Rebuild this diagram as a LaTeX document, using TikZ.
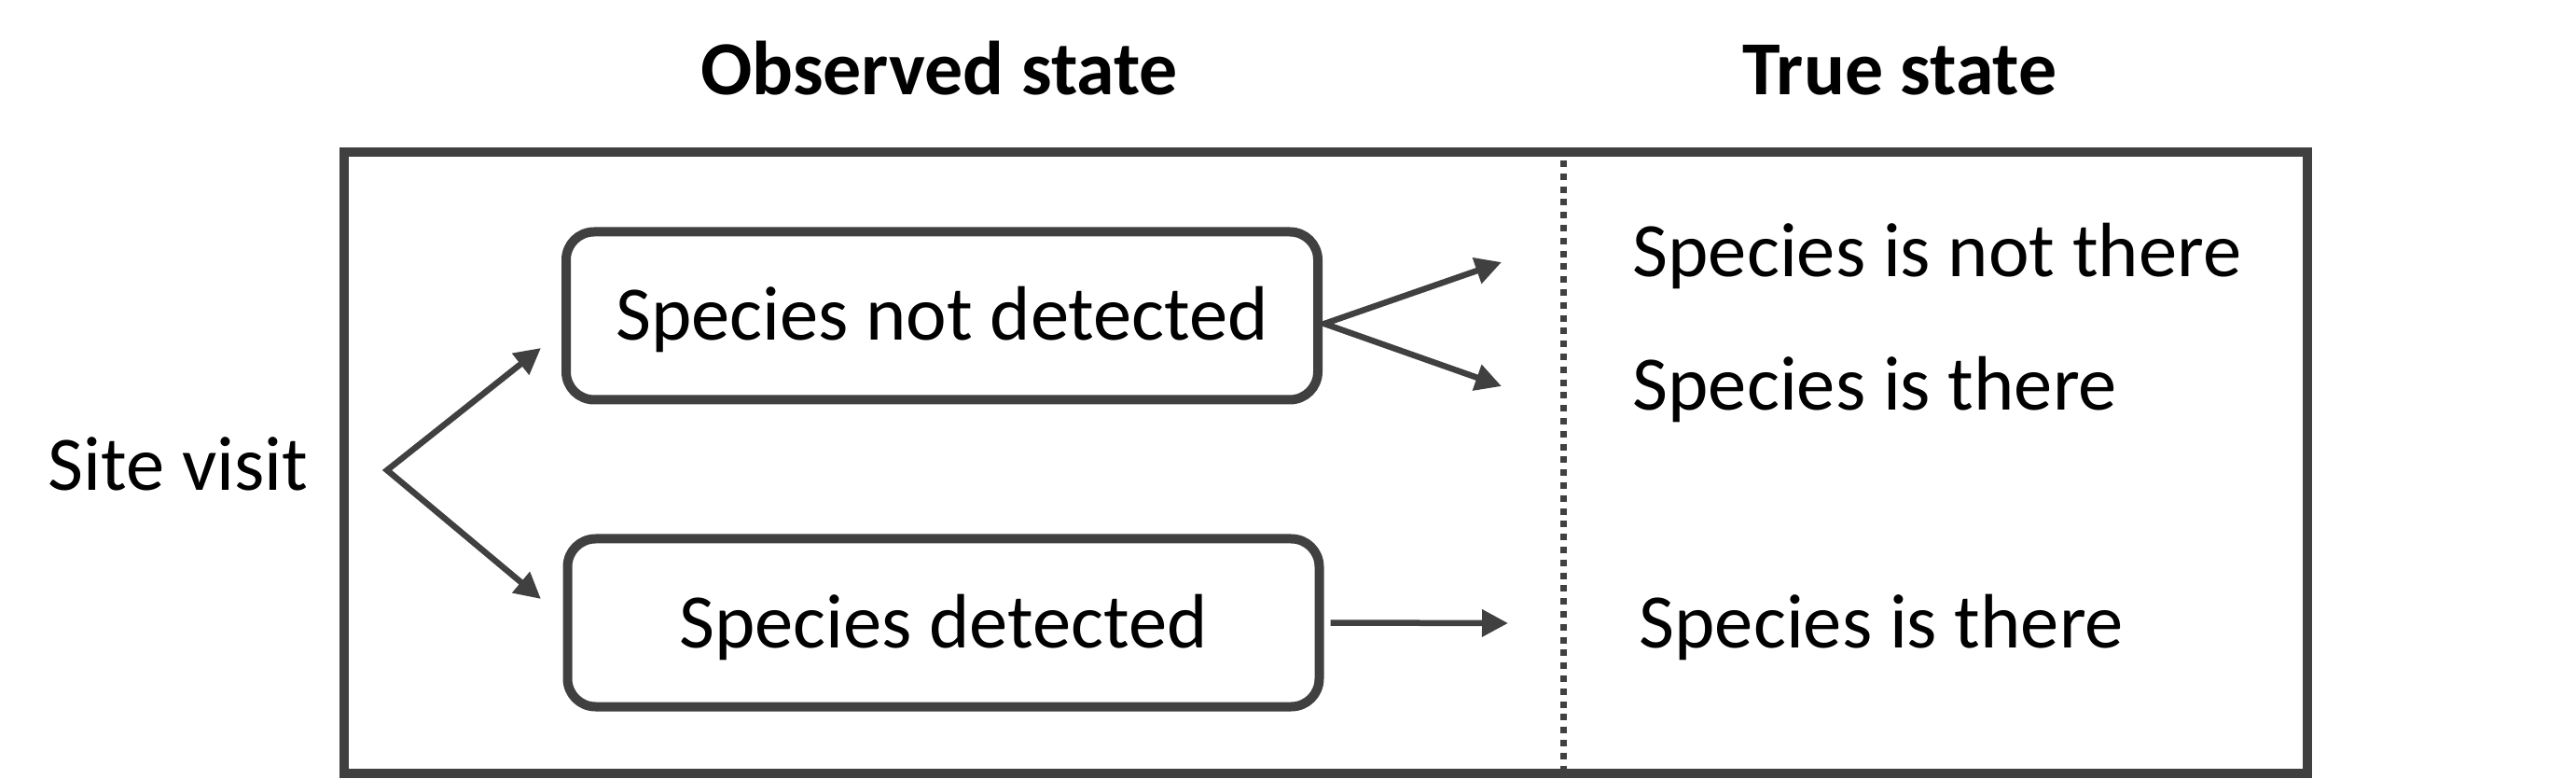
\documentclass[tikz,border=0pt]{standalone}
\usepackage{fontspec}
\setmainfont{Carlito}
\usetikzlibrary{arrows.meta,positioning}
\definecolor{frame}{HTML}{404040}
\newcommand{\statefont}{\fontsize{23.5}{28}\selectfont}
\newcommand{\headfont}{\fontsize{23.3}{28}\selectfont\bfseries}
\tikzset{
  statebox/.style={draw=frame,line width=0.1cm,rounded corners=0.3cm,
                   minimum width=8.06cm,minimum height=1.8cm,inner sep=0pt,
                   text height=0.53cm,text depth=0pt,font=\statefont},
  txt/.style     ={inner sep=0pt,font=\statefont},
  hdr/.style     ={inner sep=0pt,font=\headfont},
  panel/.style   ={draw=frame,line width=0.1cm},
  divider/.style ={draw=frame,line width=0.07cm,dash pattern=on 0.07cm off 0.068cm},
  flow/.style    ={-{Triangle[length=0.28cm,width=0.28cm]},line width=0.065cm,draw=frame},
  fork/.style    ={{Triangle[length=0.28cm,width=0.28cm]}-{Triangle[length=0.28cm,width=0.28cm]},
                   line width=0.065cm,draw=frame}
}
\begin{document}
\begin{tikzpicture}
  \useasboundingbox (0,0) rectangle (27.62,8.34);
  % outer panel and split between observed / true
  \draw[panel] (3.69,6.71) rectangle (24.74,0.05);
  \draw[divider] (16.765,6.62) -- (16.765,0.10);

  \node[hdr,anchor=base] (observed) at (10.07,7.32) {Observed state};
  \node[hdr,anchor=base] (truestate) at (20.37,7.32) {True state};

  \node[txt,anchor=base west] (site) at (0.51,3.08) {Site visit};
  \node[statebox] (notdet) at (10.10,4.955) {Species not detected};
  \node[statebox] (det) at (10.115,1.665) {Species detected};

  \node[txt,anchor=base west] (absent) at (17.50,5.37) {Species is not there};
  \node[txt,anchor=base west] (present) at (17.50,3.94) {Species is there};
  \node[txt,anchor=base west] (present2) at (17.57,1.40) {Species is there};

  \coordinate (visit) at (4.15,3.30);
  \coordinate (toNot) at (5.80,4.61);
  \coordinate (toDet) at (5.80,1.92);
  \coordinate (split) at (14.20,4.87);
  \coordinate (toAbsent) at (16.10,5.53);
  \coordinate (toPresent) at (16.10,4.20);
  \coordinate (toPresent2) at (16.17,1.66);

  \draw[fork] (toNot) -- (visit) -- (toDet);
  \draw[fork] (toAbsent) -- (split) -- (toPresent);
  \draw[flow] ([xshift=0.07cm]det.east) -- (toPresent2);
\end{tikzpicture}
\end{document}
